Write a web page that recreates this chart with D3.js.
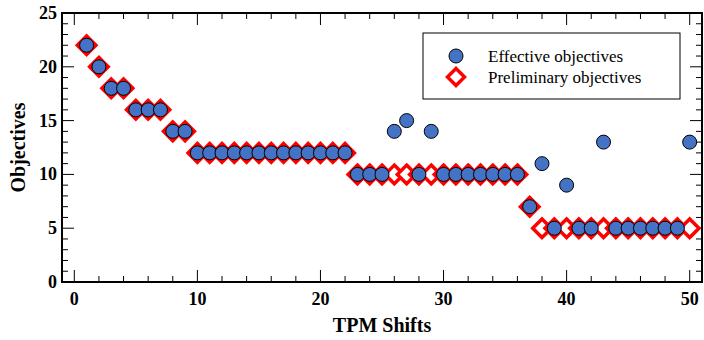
<!DOCTYPE html>
<html>
<head>
<meta charset="utf-8">
<script src="https://cdn.jsdelivr.net/npm/d3@7"></script>
<style>
  body { margin: 0; background: #fff; }
  svg { display: block; font-family: "Liberation Serif", "DejaVu Serif", serif; }
</style>
</head>
<body>
<svg id="chart"></svg>
<script>
// TPM shift index 1..50
const shifts = d3.range(1, 51);
const effective = [22, 20, 18, 18, 16, 16, 16, 14, 14,
    12, 12, 12, 12, 12, 12, 12, 12, 12, 12, 12, 12, 12,
    10, 10, 10, 14, 15, 10, 14, 10, 10, 10, 10, 10, 10, 10,
    7, 11, 5, 9, 5, 5, 13, 5, 5, 5, 5, 5, 5, 13];
const preliminary = [22, 20, 18, 18, 16, 16, 16, 14, 14,
    12, 12, 12, 12, 12, 12, 12, 12, 12, 12, 12, 12, 12,
    10, 10, 10, 10, 10, 10, 10, 10, 10, 10, 10, 10, 10, 10,
    7, 5, 5, 5, 5, 5, 5, 5, 5, 5, 5, 5, 5, 5];
const xTicks = [0, 10, 20, 30, 40, 50];
const yTicks = [0, 5, 10, 15, 20, 25];

const W = 704, H = 340;
const m = { left: 62, top: 13, right: 2, bottom: 58 };
const svg = d3.select('#chart').attr('width', W).attr('height', H);

const x = d3.scaleLinear().domain([-1, 51]).range([m.left, W - m.right]);
const y = d3.scaleLinear().domain([0, 25]).range([H - m.bottom, m.top]);

const g = svg.append('g');

// ticks (inward, all four sides)
const xMinor = d3.range(0, 51, 2);
const yMinor = d3.range(0, 26, 1);
const tickG = g.append('g').attr('stroke', '#000').attr('stroke-width', 1);
xMinor.forEach(v => {
    const len = v % 10 === 0 ? 12 : 6;
    tickG.append('line').attr('x1', x(v)).attr('x2', x(v))
        .attr('y1', y(0)).attr('y2', y(0) - len);
    tickG.append('line').attr('x1', x(v)).attr('x2', x(v))
        .attr('y1', y(25)).attr('y2', y(25) + len);
});
yMinor.forEach(v => {
    const len = v % 5 === 0 ? 12 : 6;
    tickG.append('line').attr('y1', y(v)).attr('y2', y(v))
        .attr('x1', x(-1)).attr('x2', x(-1) + len);
    tickG.append('line').attr('y1', y(v)).attr('y2', y(v))
        .attr('x1', x(51)).attr('x2', x(51) - len);
});

// frame
g.append('rect')
    .attr('x', x(-1)).attr('y', y(25))
    .attr('width', x(51) - x(-1)).attr('height', y(0) - y(25))
    .attr('fill', 'none').attr('stroke', '#000').attr('stroke-width', 2);

// tick labels
g.selectAll('.xlab').data(xTicks).enter().append('text')
    .attr('x', d => x(d)).attr('y', y(0) + 23)
    .attr('text-anchor', 'middle').attr('font-size', 18).attr('font-weight', 'bold')
    .text(d => d);
g.selectAll('.ylab').data(yTicks).enter().append('text')
    .attr('x', m.left - 5).attr('y', d => y(d) + 6)
    .attr('text-anchor', 'end').attr('font-size', 18).attr('font-weight', 'bold')
    .text(d => d);

// axis titles
g.append('text').attr('x', (x(-1) + x(51)) / 2).attr('y', 332)
    .attr('text-anchor', 'middle').attr('font-size', 20).attr('font-weight', 'bold')
    .text('TPM Shifts');
g.append('text').attr('transform', `translate(25, ${(y(0) + y(25)) / 2}) rotate(-90)`)
    .attr('text-anchor', 'middle').attr('font-size', 20).attr('font-weight', 'bold')
    .text('Objectives');

const diamond = s => `M0,${-s}L${s},0L0,${s}L${-s},0Z`;

// preliminary diamonds
g.selectAll('.prelim').data(shifts).enter().append('path')
    .attr('d', diamond(9.3))
    .attr('transform', (d, i) => `translate(${x(d)},${y(preliminary[i])})`)
    .attr('fill', '#fff').attr('stroke', '#ff0000').attr('stroke-width', 3.5);

// effective circles
g.selectAll('.eff').data(shifts).enter().append('circle')
    .attr('cx', d => x(d)).attr('cy', (d, i) => y(effective[i]))
    .attr('r', 7)
    .attr('fill', '#4472c4').attr('stroke', '#000').attr('stroke-width', 1);

// legend
const lg = g.append('g');
lg.append('rect').attr('x', 423).attr('y', 33).attr('width', 257).attr('height', 66)
    .attr('fill', '#fff').attr('stroke', '#000').attr('stroke-width', 1);
lg.append('circle').attr('cx', 456).attr('cy', 56).attr('r', 7)
    .attr('fill', '#4472c4').attr('stroke', '#000').attr('stroke-width', 1);
lg.append('path').attr('d', diamond(8.5)).attr('transform', 'translate(456,77)')
    .attr('fill', '#fff').attr('stroke', '#ff0000').attr('stroke-width', 3.5);
lg.append('text').attr('x', 488).attr('y', 62).attr('font-size', 17)
    .text('Effective objectives');
lg.append('text').attr('x', 488).attr('y', 83).attr('font-size', 17)
    .text('Preliminary objectives');
</script>
</body>
</html>
